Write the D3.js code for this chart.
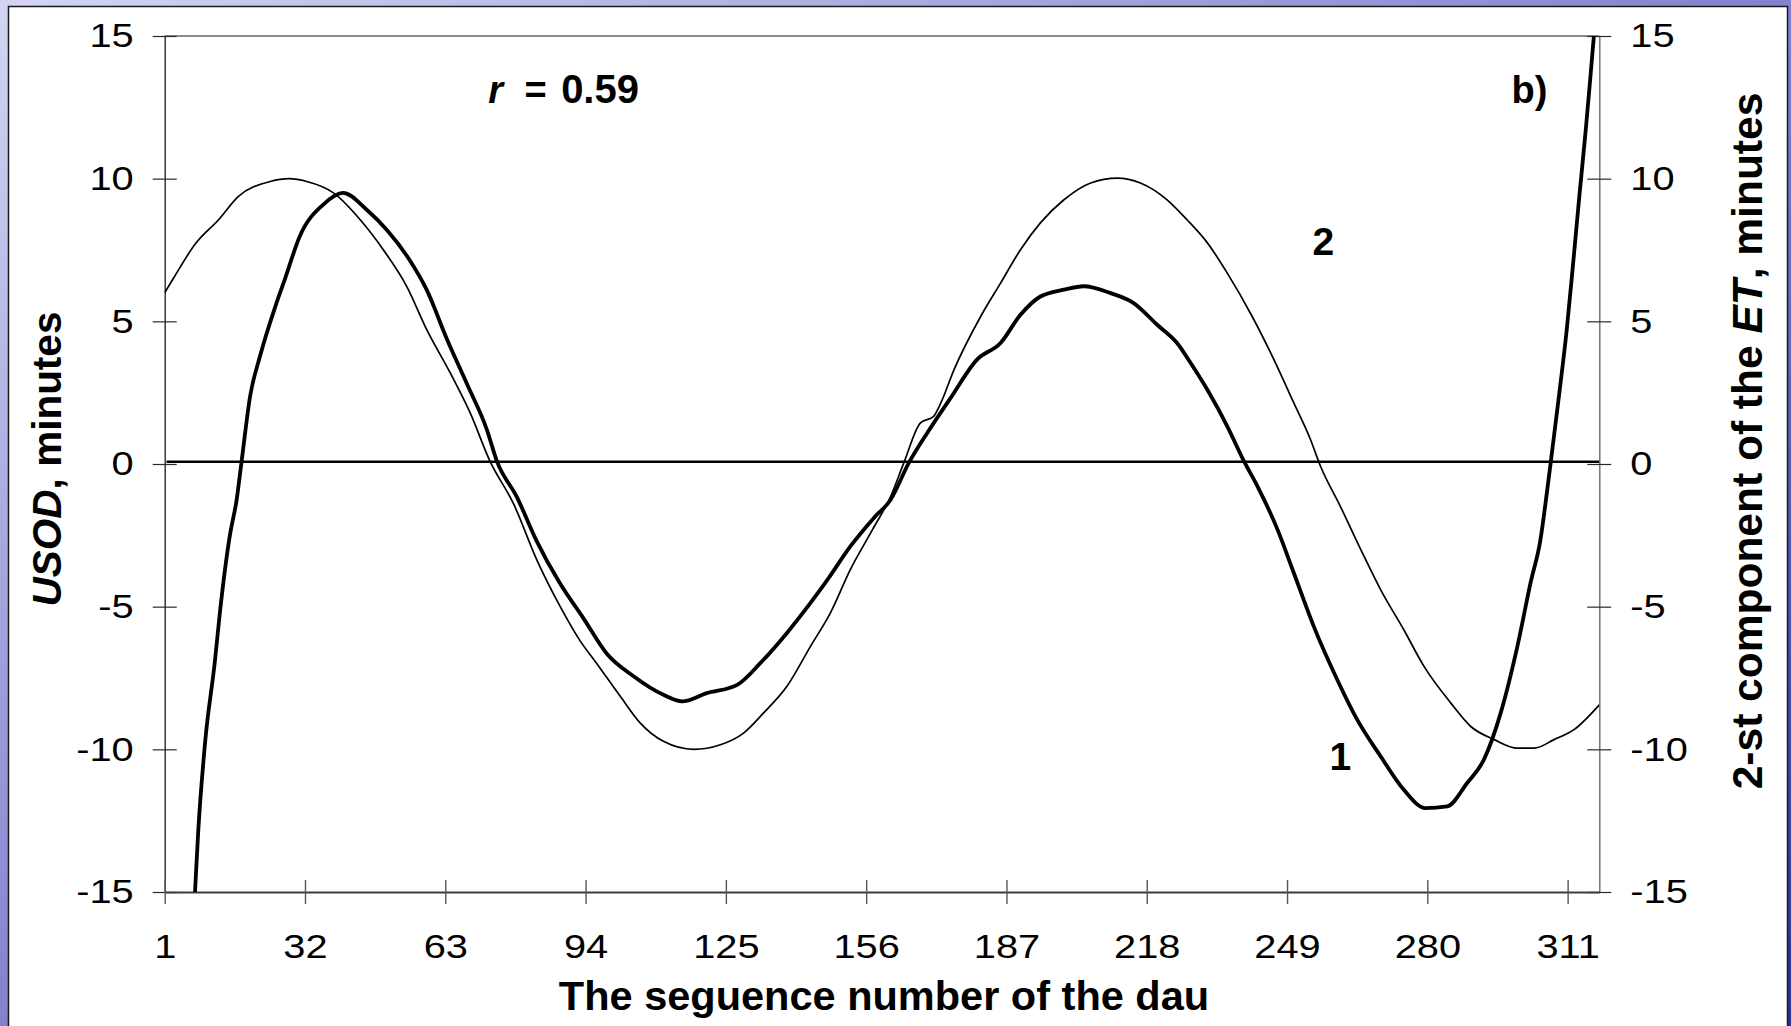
<!DOCTYPE html>
<html><head><meta charset="utf-8">
<script src="https://cdn.jsdelivr.net/npm/d3@7"></script>
<style>html,body{margin:0;padding:0;overflow:hidden;background:#fff}</style>
</head><body>
<svg id="c" width="1791" height="1026"></svg>
<script>
// ---- data ----
const xTicks = [1, 32, 63, 94, 125, 156, 187, 218, 249, 280, 311];
const yTicks = [-15, -10, -5, 0, 5, 10, 15];
const dayRange = [1, 318];

// Series 1 (thick): USOD, minutes
const usodDays = [7, 7.7, 8.4, 9.9, 12.1, 13.2, 15.4, 16.9, 18, 19.9, 22.1, 25.4, 27.6, 30.9, 36.1, 40.4,
  45.7, 50.1, 54.9, 58.9, 63.3, 67.8, 72.2, 74.4, 78.8, 83.2, 88.4, 93.5, 98.7, 104.6, 111.2, 115.3,
  120.8, 127.5, 132.6, 138.5, 143.7, 147.7, 152.5, 157.7, 161.4, 165.4, 169.5, 174.6, 180.5, 185.7,
  190.1, 194.5, 199.7, 204.1, 210, 215.1, 220.3, 224.7, 227.7, 231.4, 235.8, 239.5, 242.5, 246.9,
  250.5, 254.9, 260.1, 264.5, 269.7, 274.8, 279.6, 284.4, 288.8, 292.5, 296.2, 299.9, 302.8, 305,
  306.5, 307.3, 309.1, 310.8, 312.2, 313.6, 315, 316, 316.8, 318];
const usodValues = [-17.2, -15, -12.9, -9.8, -6.9, -5.2, -2.5, -1.25, 0.1, 2.4, 3.8, 5.5, 6.5, 8.0, 9.1, 9.5,
  8.9, 8.2, 7.2, 6.1, 4.4, 2.8, 1.2, 0.1, -1.15, -2.7, -4.2, -5.4, -6.65, -7.44, -8.09, -8.32,
  -8.03, -7.74, -6.98, -5.92, -4.87, -4.0, -2.89, -1.89, -1.25, 0.03, 1.09, 2.3, 3.66, 4.24,
  5.23, 5.87, 6.11, 6.23, 5.99, 5.64, 4.88, 4.24, 3.54, 2.6, 1.32, 0.09, -0.79, -2.3,
  -3.82, -5.69, -7.56, -8.96, -10.25, -11.42, -12.06, -12.0, -11.18, -10.36, -8.73, -6.39, -4.17, -2.65,
  -0.9, 0.1, 2.4, 4.7, 7.0, 9.4, 11.7, 13.5, 15, 17];

// Series 2 (thin): 2-st component of the ET, minutes
const etDays = [1, 2.9, 7.7, 12.9, 17.3, 24.3, 28.5, 32.4, 38.3, 44.2, 49.3, 54.5, 58.9, 64.1, 68.5, 72.9,
  78.1, 83.2, 88.4, 92.8, 96.5, 101.7, 106.1, 111.2, 117.9, 123.8, 128.9, 133.3, 138.5, 143.7, 148.1,
  152.5, 157.4, 161.4, 164.3, 168, 170.9, 172.5, 175.4, 181.3, 185.7, 190.1, 194.5, 199.7, 205.6,
  211.5, 216.6, 222.5, 226.9, 231.4, 235.8, 241.3, 246.1, 250.5, 254.2, 256.4, 260.8, 265.3, 269.7,
  274.8, 279.3, 285.2, 289.6, 294.8, 299.9, 303.6, 308, 312.4, 318];
const etValues = [6.0, 6.5, 7.7, 8.56, 9.38, 9.9, 10.0, 9.9, 9.5, 8.56, 7.51, 6.22, 4.71, 3.19, 1.79, 0.09,
  -1.4, -3.35, -5.0, -6.2, -7.0, -8.15, -9.08, -9.72, -10.0, -9.84, -9.43, -8.73, -7.79, -6.39, -5.22,
  -3.7, -2.3, -1.14, 0.03, 1.44, 1.67, 2.14, 3.3, 5.17, 6.34, 7.51, 8.45, 9.26, 9.85,
  10.02, 9.85, 9.26, 8.56, 7.75, 6.69, 5.17, 3.66, 2.14, 0.85, -0.08, -1.49, -3.0, -4.41,
  -5.81, -7.1, -8.38, -9.2, -9.66, -9.96, -9.96, -9.66, -9.31, -8.44];

// Reference line
const zeroDays = [1.4, 318];
const zeroValues = [0.08, 0.08];

// ---- drawing ----
const W = 1791, H = 1026;
const svg = d3.select('#c');
const FONT = '"Liberation Sans", Arial, Helvetica, sans-serif';
const SX = 1.17; // horizontal stretch of tick labels seen in the picture

const defs = svg.append('defs');
const grad = defs.append('linearGradient').attr('id', 'bg')
  .attr('x1', '0').attr('y1', '0').attr('x2', '1').attr('y2', '1');
grad.append('stop').attr('offset', '0%').attr('stop-color', '#d4d4f2');
grad.append('stop').attr('offset', '45%').attr('stop-color', '#8a8ad2');
grad.append('stop').attr('offset', '100%').attr('stop-color', '#2f2f9c');
svg.append('rect').attr('width', W).attr('height', H).attr('fill', 'url(#bg)');

svg.append('rect').attr('x', 8.5).attr('y', 6.5).attr('width', 1779).attr('height', 1040)
  .attr('fill', '#fff').attr('stroke', '#1a1a1a').attr('stroke-width', 1.5);

const L = 164.7, R = 1599.3, T = 36, B = 892;
const x = d3.scaleLinear().domain(dayRange).range([L, R]);
const y = d3.scaleLinear().domain([-15, 15]).range([B, T]);

defs.append('clipPath').attr('id', 'plot').append('rect')
  .attr('x', L).attr('y', T).attr('width', R - L).attr('height', B - T);

const fmt = d => String(d);

// top border
svg.append('line').attr('x1', L).attr('x2', R).attr('y1', y(15)).attr('y2', y(15))
  .attr('stroke', '#8c8c8c').attr('stroke-width', 2);

// left axis
const gl = svg.append('g').attr('transform', `translate(${L},0)`)
  .call(d3.axisLeft(y).tickValues(yTicks).tickFormat(fmt).tickSize(12).tickSizeOuter(0));
gl.select('.domain').attr('stroke', '#2a2a2a').attr('stroke-width', 1.4);
gl.selectAll('.tick line').attr('x1', 12).attr('stroke', '#2a2a2a').attr('stroke-width', 1.2);
gl.selectAll('.tick text').attr('font-family', FONT).attr('font-size', 34).attr('fill', '#000')
  .attr('x', -31 / SX).attr('transform', `scale(${SX},1)`);

// right axis
const gr = svg.append('g').attr('transform', `translate(${R},0)`)
  .call(d3.axisRight(y).tickValues(yTicks).tickFormat(fmt).tickSize(12).tickSizeOuter(0));
gr.select('.domain').attr('stroke', '#6a6a6a').attr('stroke-width', 1.4);
gr.selectAll('.tick line').attr('x1', -12).attr('stroke', '#2a2a2a').attr('stroke-width', 1.2);
gr.selectAll('.tick text').attr('font-family', FONT).attr('font-size', 34).attr('fill', '#000')
  .attr('x', 31 / SX).attr('transform', `scale(${SX},1)`);

// bottom axis
const gb = svg.append('g').attr('transform', `translate(0,${B})`)
  .call(d3.axisBottom(x).tickValues(xTicks).tickFormat(fmt).tickSize(12).tickSizeOuter(0));
gb.select('.domain').attr('stroke', '#3a3a3a').attr('stroke-width', 2.2);
gb.selectAll('.tick line').attr('y1', -12).attr('stroke', '#555').attr('stroke-width', 1.4);
gb.selectAll('.tick text').attr('font-family', FONT).attr('font-size', 34).attr('fill', '#000')
  .attr('y', 66).attr('dy', 0).attr('transform', `scale(${SX},1)`);

const plot = svg.append('g').attr('clip-path', 'url(#plot)');
const line = d3.line().x(d => x(d[0])).y(d => y(d[1])).curve(d3.curveMonotoneX);

plot.append('path').datum(d3.zip(zeroDays, zeroValues))
  .attr('d', d3.line().x(d => x(d[0])).y(d => y(d[1])))
  .attr('fill', 'none').attr('stroke', '#000').attr('stroke-width', 2.6);

plot.append('path').datum(d3.zip(etDays, etValues)).attr('d', line)
  .attr('fill', 'none').attr('stroke', '#000').attr('stroke-width', 1.7)
  .attr('stroke-linejoin', 'round');

plot.append('path').datum(d3.zip(usodDays, usodValues)).attr('d', line)
  .attr('fill', 'none').attr('stroke', '#000').attr('stroke-width', 3.8)
  .attr('stroke-linejoin', 'round');

// annotations
const ann = svg.append('g').attr('font-family', FONT).attr('font-weight', 'bold').attr('fill', '#000');
const rt = ann.append('text').attr('x', x(72.5)).attr('y', y(12.65)).attr('font-size', 38);
rt.append('tspan').attr('font-style', 'italic').text('r');
rt.append('tspan').attr('x', x(80.5)).text('=');
rt.append('tspan').attr('x', x(88.6)).attr('font-size', 40).text('0.59');
ann.append('text').attr('x', x(298.6)).attr('y', y(12.65)).attr('font-size', 38).text('b)');
ann.append('text').attr('x', x(257)).attr('y', y(7.33)).attr('font-size', 39).attr('text-anchor', 'middle').text('2');
ann.append('text').attr('x', x(260.8)).attr('y', y(-10.72)).attr('font-size', 39).attr('text-anchor', 'middle').text('1');

// axis titles
svg.append('text').attr('x', (L + R) / 2 + 2).attr('y', 1010)
  .attr('font-family', FONT).attr('font-weight', 'bold').attr('font-size', 41.5)
  .attr('text-anchor', 'middle').text('The seguence number of the dau');

const lt = svg.append('text').attr('transform', 'translate(61,459) rotate(-90)')
  .attr('font-family', FONT).attr('font-weight', 'bold').attr('font-size', 40.5)
  .attr('text-anchor', 'middle');
lt.append('tspan').attr('font-style', 'italic').text('USOD');
lt.append('tspan').text(', minutes');

const rtt = svg.append('text').attr('transform', 'translate(1762,441) rotate(-90)')
  .attr('font-family', FONT).attr('font-weight', 'bold').attr('font-size', 42.5)
  .attr('text-anchor', 'middle');
rtt.append('tspan').text('2-st component of the ');
rtt.append('tspan').attr('font-style', 'italic').text('ET');
rtt.append('tspan').text(', minutes');
</script>
</body></html>
